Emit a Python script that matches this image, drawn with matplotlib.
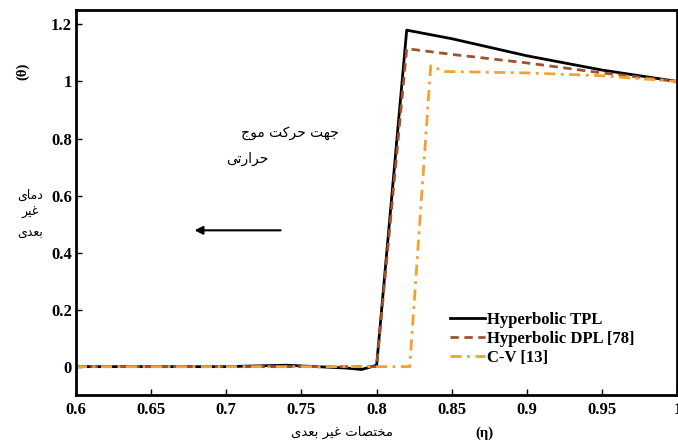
import matplotlib
matplotlib.use('Agg')
import matplotlib.pyplot as plt

# داده ها
eta_tpl = [0.6, 0.65, 0.7, 0.74, 0.76, 0.78, 0.79, 0.8, 0.82, 0.85, 0.9, 0.95, 1.0]
theta_tpl = [0, 0, 0, 0.005, 0, -0.005, -0.01, 0.005, 1.18, 1.15, 1.09, 1.04, 1.0]
eta_dpl = [0.6, 0.7, 0.8, 0.82, 0.85, 0.9, 0.95, 1.0]
theta_dpl = [0, 0, 0, 1.115, 1.095, 1.065, 1.03, 1.0]
eta_cv = [0.6, 0.7, 0.8, 0.822, 0.836, 0.845, 0.9, 0.95, 1.0]
theta_cv = [0, 0, 0, 0, 1.055, 1.035, 1.03, 1.02, 1.0]
labels = ['Hyperbolic TPL', 'Hyperbolic DPL [78]', 'C-V [13]']
xticks = [0.6, 0.65, 0.7, 0.75, 0.8, 0.85, 0.9, 0.95, 1.0]
xticklabels = ['0.6', '0.65', '0.7', '0.75', '0.8', '0.85', '0.9', '0.95', '1']
yticks = [0, 0.2, 0.4, 0.6, 0.8, 1.0, 1.2]
yticklabels = ['0', '0.2', '0.4', '0.6', '0.8', '1', '1.2']

# شکل دهی حروف فارسی (matplotlib خودش اتصال حروف را انجام نمی دهد)
forms = {
    'ا': ('\uFE8D', '\uFE8E', None, None),
    'ب': ('\uFE8F', '\uFE90', '\uFE91', '\uFE92'),
    'ت': ('\uFE95', '\uFE96', '\uFE97', '\uFE98'),
    'ج': ('\uFE9D', '\uFE9E', '\uFE9F', '\uFEA0'),
    'ح': ('\uFEA1', '\uFEA2', '\uFEA3', '\uFEA4'),
    'خ': ('\uFEA5', '\uFEA6', '\uFEA7', '\uFEA8'),
    'د': ('\uFEA9', '\uFEAA', None, None),
    'ر': ('\uFEAD', '\uFEAE', None, None),
    'ص': ('\uFEB9', '\uFEBA', '\uFEBB', '\uFEBC'),
    'ع': ('\uFEC9', '\uFECA', '\uFECB', '\uFECC'),
    'غ': ('\uFECD', '\uFECE', '\uFECF', '\uFED0'),
    'م': ('\uFEE1', '\uFEE2', '\uFEE3', '\uFEE4'),
    'ن': ('\uFEE5', '\uFEE6', '\uFEE7', '\uFEE8'),
    'ه': ('\uFEE9', '\uFEEA', '\uFEEB', '\uFEEC'),
    'و': ('\uFEED', '\uFEEE', None, None),
    'ک': ('\uFB8E', '\uFB8F', '\uFB90', '\uFB91'),
    'ی': ('\uFBFC', '\uFBFD', '\uFBFE', '\uFBFF'),
}

def fa(s):
    out = []
    for i, c in enumerate(s):
        if c not in forms:
            out.append(c)
            continue
        prev = s[i-1] if i > 0 else ' '
        nxt = s[i+1] if i < len(s)-1 else ' '
        join_prev = prev in forms and forms[prev][2] is not None
        join_next = nxt in forms and forms[c][2] is not None
        f = forms[c]
        if join_prev and join_next:
            out.append(f[3])
        elif join_prev:
            out.append(f[1])
        elif join_next:
            out.append(f[2])
        else:
            out.append(f[0])
    return ''.join(out)[::-1]

plt.rcParams['font.family'] = ['Liberation Serif', 'DejaVu Sans']
plt.rcParams['font.weight'] = 'bold'

fig = plt.figure(figsize=(6.78, 4.43), dpi=100)
ax = fig.add_axes([0.112, 0.108, 0.887, 0.869])

ax.plot(eta_tpl, theta_tpl, color='black', linewidth=2, linestyle='-', label=labels[0])
ax.plot(eta_dpl, theta_dpl, color='#a0522d', linewidth=2, linestyle=(0, (3, 2)), label=labels[1])
ax.plot(eta_cv, theta_cv, color='#f5a030', linewidth=2, linestyle=(0, (4, 2, 1, 2)), label=labels[2])

ax.set_xlim(0.6, 1.0)
ax.set_ylim(-0.1, 1.25)
ax.set_xticks(xticks)
ax.set_xticklabels(xticklabels)
ax.set_yticks(yticks)
ax.set_yticklabels(yticklabels)
ax.tick_params(direction='in', length=4, width=1, labelsize=12)
ax.tick_params(axis='x', pad=5)
ax.tick_params(axis='y', pad=3)
for lab in ax.get_xticklabels() + ax.get_yticklabels():
    lab.set_fontweight('bold')
for sp in ax.spines.values():
    sp.set_linewidth(2)

leg = ax.legend(loc='lower left', bbox_to_anchor=(0.622, 0.075), frameon=False,
                prop={'family': 'Liberation Serif', 'weight': 'bold', 'size': 12},
                handlelength=2.1, handletextpad=0.1, labelspacing=0.2,
                borderaxespad=0, borderpad=0)

# فلش جهت حرکت موج
ax.annotate('', xy=(0.677, 0.478), xytext=(0.738, 0.478),
            arrowprops=dict(arrowstyle='-|>', color='black', lw=1.5, mutation_scale=12))
ax.text(0.775, 0.82, fa('جهت حرکت موج'), ha='right', va='center', fontsize=10,
        family=['DejaVu Sans'], fontweight='normal')
ax.text(0.7, 0.73, fa('حرارتی'), ha='left', va='center', fontsize=10,
        family=['DejaVu Sans'], fontweight='normal')

# برچسب محورها
fig.text(0.033, 0.84, '(θ)', rotation=90, ha='center', va='center', fontsize=10.5, fontweight='bold')
fig.text(0.045, 0.56, fa('دمای'), ha='center', va='center', fontsize=9,
         family=['DejaVu Sans'], fontweight='normal')
fig.text(0.045, 0.52, fa('غیر'), ha='center', va='center', fontsize=9,
         family=['DejaVu Sans'], fontweight='normal')
fig.text(0.045, 0.475, fa('بعدی'), ha='center', va='center', fontsize=9,
         family=['DejaVu Sans'], fontweight='normal')
fig.text(0.505, 0.025, fa('مختصات غیر بعدی'), ha='center', va='center', fontsize=9.5,
         family=['DejaVu Sans'], fontweight='normal')
fig.text(0.715, 0.022, '(η)', ha='center', va='center', fontsize=10.5, fontweight='bold')

fig.savefig('out.png', dpi=100)
